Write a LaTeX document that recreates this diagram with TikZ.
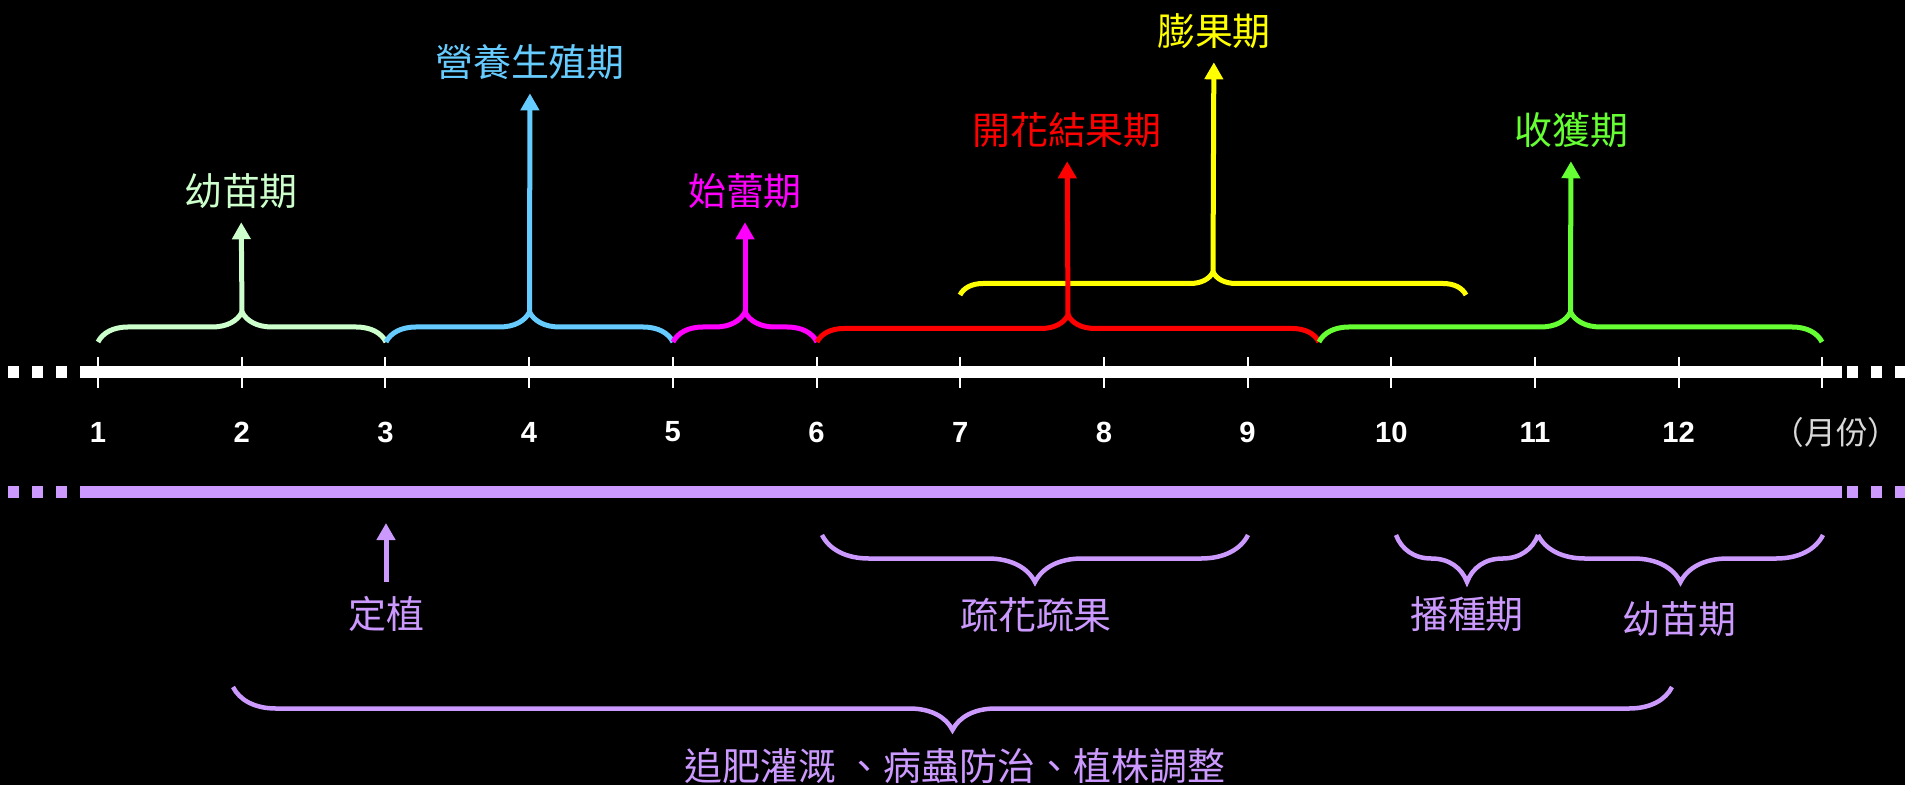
\documentclass[tikz,border=0pt]{standalone}
\usepackage{fontspec}
\setmainfont{Liberation Sans}
\newfontfamily\cjk{Noto Sans CJK TC}
\usetikzlibrary{arrows.meta, positioning, decorations.pathreplacing}
\definecolor{seedgreen}{HTML}{CCFFCC}
\definecolor{growblue}{HTML}{66CCFF}
\definecolor{budmagenta}{HTML}{FF00FF}
\definecolor{flowerred}{HTML}{FF0000}
\definecolor{fruityellow}{HTML}{FFFF00}
\definecolor{harvestgreen}{HTML}{66FF33}
\definecolor{worklilac}{HTML}{CC99FF}
\definecolor{unitgray}{HTML}{D9D9D9}

\begin{document}
\begin{tikzpicture}[x=0.01cm, y=-0.01cm]
% Define styles
\tikzstyle{stage} = [font=\cjk\fontsize{10.8}{13}\selectfont, inner sep=0pt]
\tikzstyle{month} = [font=\bfseries\fontsize{8.3}{10}\selectfont, text=white, inner sep=0pt]
\tikzstyle{upbrace} = [line width=0.5mm, decorate, decoration={brace, amplitude=3mm}]
\tikzstyle{downbrace} = [line width=0.45mm, draw=worklilac, decorate, decoration={brace, mirror, amplitude=4.7mm}]
\tikzstyle{uparrow} = [line width=0.5mm, -{Triangle[length=1.7mm, width=1.8mm]}, shorten >=1.3mm]
\tikzstyle{dots} = [line width=1.1mm, dash pattern=on 0.11cm off 0.13cm]

% Background
\fill[black] (0,0) rectangle (1905,785);
\useasboundingbox (0,0) rectangle (1905,785);

% Month axis
\draw[white, line width=1.1mm] (80,372) -- (1842,372);
\draw[white, dots] (8,372) -- (80,372);
\draw[white, dots] (1847,372) -- (1905,372);
\foreach \i in {1,...,13} {
  \coordinate (t\i) at ({98+143.7*(\i-1)},372);
  \draw[white, line width=0.2mm] ({98+143.7*(\i-1)},357) -- ++(0,31);
}
\foreach \i in {1,...,12}
  \node[month] (m\i) at ({98+143.7*(\i-1)},432) {\i};
\node[stage, text=unitgray, font=\cjk\fontsize{9}{11}\selectfont] (unit) at (1836,432) {（月份）};

% Growth stages
\draw[upbrace, seedgreen] (98,342) -- (386,342);
\coordinate (c1) at (242,312);
\node[stage, text=seedgreen] (seedling) at (241,191) {幼苗期};
\draw[uparrow, seedgreen] (c1) -- (seedling);

\draw[upbrace, growblue] (386,342) -- (673,342);
\coordinate (c2) at (529.5,312);
\node[stage, text=growblue] (vegetative) at (530,62) {營養生殖期};
\draw[uparrow, growblue] (c2) -- (vegetative);

\draw[upbrace, budmagenta] (673,342) -- (817,342);
\coordinate (c3) at (745,312);
\node[stage, text=budmagenta] (budding) at (745,191) {始蕾期};
\draw[uparrow, budmagenta] (c3) -- (budding);

\draw[upbrace, fruityellow, decoration={amplitude=2.3mm}] (960,295) -- (1466,295);
\coordinate (c4) at (1213,272);
\node[stage, text=fruityellow] (swelling) at (1214,31) {膨果期};
\draw[uparrow, fruityellow] (c4) -- (swelling);

\draw[upbrace, flowerred, decoration={amplitude=2.7mm}] (817,342) -- (1319,342);
\coordinate (c5) at (1068,315);
\node[stage, text=flowerred] (flowering) at (1067,130) {開花結果期};
\draw[uparrow, flowerred] (c5) -- (flowering);

\draw[upbrace, harvestgreen] (1319,342) -- (1822,342);
\coordinate (c6) at (1570.5,312);
\node[stage, text=harvestgreen] (harvest) at (1571,130) {收獲期};
\draw[uparrow, harvestgreen] (c6) -- (harvest);

% Field work
\draw[worklilac, line width=1.2mm] (80,492) -- (1842,492);
\draw[worklilac, dots, line width=1.2mm] (8,492) -- (80,492);
\draw[worklilac, dots, line width=1.2mm] (1847,492) -- (1905,492);

\coordinate (plant) at (386,523);
\node[stage, text=worklilac] (planting) at (386,614) {定植};
\draw[uparrow, worklilac, shorten >=0mm, shorten <=1.4mm] (planting) -- (plant);

\draw[downbrace] (822,535) -- (1248,535);
\node[stage, text=worklilac] (thinning) at (1036,615) {疏花疏果};
\draw[downbrace] (1396,535) -- (1538,535);
\node[stage, text=worklilac] (sowing) at (1467,614) {播種期};
\draw[downbrace] (1538,535) -- (1823,535);
\node[stage, text=worklilac] (seedling2) at (1679,619) {幼苗期};

\draw[downbrace, decoration={amplitude=4.3mm}] (233,687) -- (1672,687);
\node[stage, text=worklilac] (care) at (955,766) {追肥灌溉 、病蟲防治、植株調整};
\end{tikzpicture}
\end{document}
